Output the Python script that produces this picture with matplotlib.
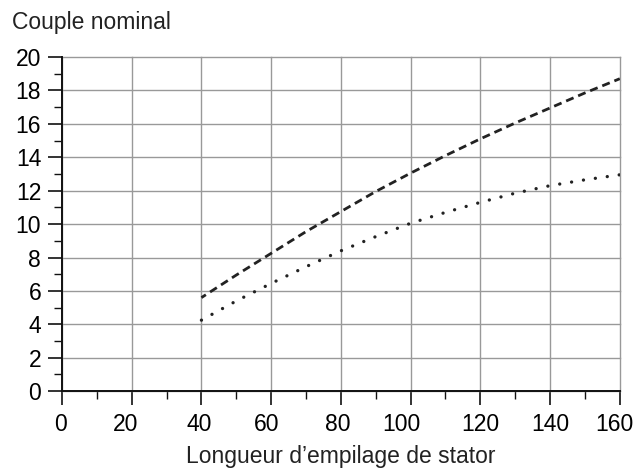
import matplotlib
matplotlib.use("Agg")
import matplotlib.pyplot as plt
from matplotlib.ticker import MultipleLocator
from matplotlib.transforms import ScaledTranslation

plt.rcParams['font.family'] = ['Liberation Sans', 'DejaVu Sans']

x_vals = [40, 50, 60, 70, 80, 90, 100, 110, 120, 130, 140, 150, 160]
dashed_vals = [5.6, 6.95, 8.25, 9.55, 10.75, 11.95, 13.05, 14.1, 15.1, 16.05, 16.95, 17.85, 18.7]
dotted_vals = [4.25, 5.4, 6.45, 7.45, 8.4, 9.25, 10.05, 10.7, 11.3, 11.85, 12.3, 12.65, 12.95]
x_ticks = [0, 20, 40, 60, 80, 100, 120, 140, 160]
y_ticks = [0, 2, 4, 6, 8, 10, 12, 14, 16, 18, 20]
# small horizontal nudges (pixels) of the x tick labels, as in the reference
x_label_nudge = [-1, -6, -2, -5, -3, -9, 0, 0, -5]

fig = plt.figure(figsize=(6.37, 4.73), dpi=100)
ax = fig.add_axes([0.0973, 0.173, 0.8757, 0.7065])

ax.plot(x_vals, dashed_vals, color='#222222', lw=2.0, linestyle=(1.0, (2.9, 1.8)))
ax.plot(x_vals, dotted_vals, color='#222222', lw=2.4, linestyle=(0, (0.01, 3.6)),
        dash_capstyle='round')

ax.set_xlim(0, 160)
ax.set_ylim(0, 20)
ax.set_xticks(x_ticks)
ax.set_yticks(y_ticks)
ax.xaxis.set_minor_locator(MultipleLocator(10))
ax.yaxis.set_minor_locator(MultipleLocator(1))
ax.grid(True, which='major', color='#999999', lw=1.0)
ax.set_axisbelow(True)
for s in ['top', 'right']:
    ax.spines[s].set_visible(False)
for s in ['left', 'bottom']:
    ax.spines[s].set_linewidth(1.4)
    ax.spines[s].set_color('#111111')
ax.tick_params(which='major', length=10, width=1.2, labelsize=16.5, color='#111111')
ax.tick_params(which='minor', length=6, width=1.0, color='#111111')
ax.tick_params(axis='x', pad=6)
ax.tick_params(axis='y', pad=5)
for gl in ax.get_xgridlines() + ax.get_ygridlines():
    gl.set_clip_on(False)

for lab, dx in zip(ax.get_xticklabels(), x_label_nudge):
    lab.set_transform(lab.get_transform() + ScaledTranslation(dx / 100, 0, fig.dpi_scale_trans))

fig.text(0.019, 0.953, 'Couple nominal', fontsize=16.5, va='center', ha='left', color='#222222')
fig.text(0.5354, 0.034, 'Longueur d\u2019empilage de stator', fontsize=16.5,
         va='center', ha='center', color='#222222')

fig.savefig('out.png', dpi=100)
